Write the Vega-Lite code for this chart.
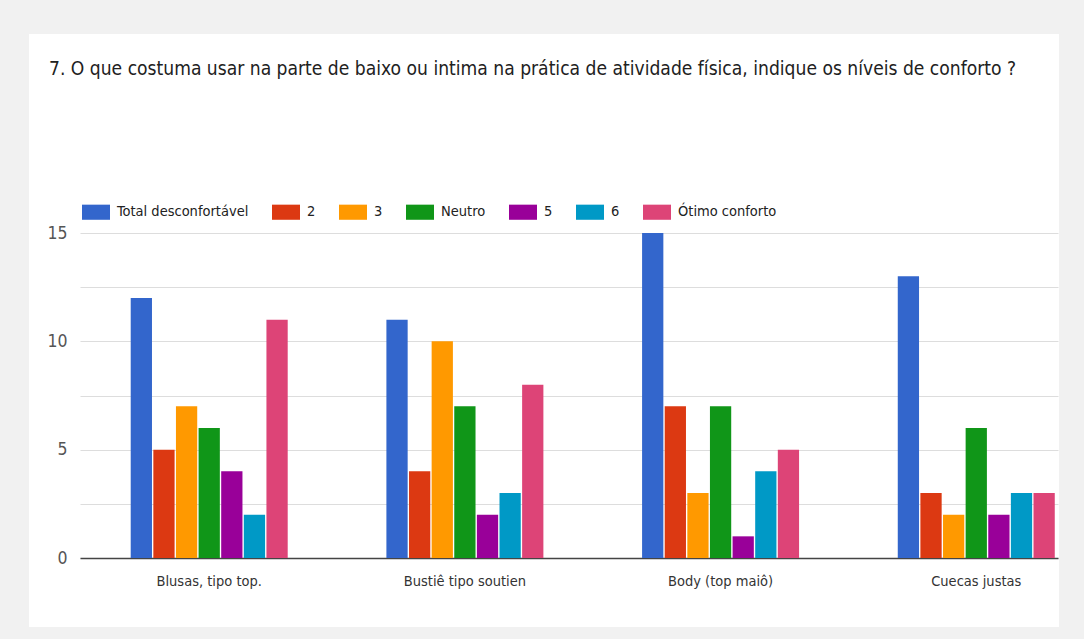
{
  "$schema": "https://vega.github.io/schema/vega-lite/v6.json",
  "width": 1030,
  "height": 593,
  "autosize": {"type": "none"},
  "padding": {"left": 29, "top": 34, "right": 25, "bottom": 12},
  "background": "#f1f1f1",
  "title": {
    "text": "7. O que costuma usar na parte de baixo ou intima na prática de atividade física, indique os níveis de conforto  ?",
    "anchor": "start",
    "frame": "group",
    "dx": 20,
    "offset": -45,
    "fontSize": 19.1,
    "limit": 1020,
    "font": "Liberation Sans Narrow, Arial Narrow, DejaVu Sans Condensed, sans-serif",
    "fontWeight": "normal",
    "color": "#212121"
  },
  "data": {
    "values": [
      {"categoria": "Blusas, tipo top.", "nivel": "Total desconfortável", "valor": 12},
      {"categoria": "Blusas, tipo top.", "nivel": "2", "valor": 5},
      {"categoria": "Blusas, tipo top.", "nivel": "3", "valor": 7},
      {"categoria": "Blusas, tipo top.", "nivel": "Neutro", "valor": 6},
      {"categoria": "Blusas, tipo top.", "nivel": "5", "valor": 4},
      {"categoria": "Blusas, tipo top.", "nivel": "6", "valor": 2},
      {"categoria": "Blusas, tipo top.", "nivel": "Ótimo conforto", "valor": 11},
      {"categoria": "Bustiê tipo soutien", "nivel": "Total desconfortável", "valor": 11},
      {"categoria": "Bustiê tipo soutien", "nivel": "2", "valor": 4},
      {"categoria": "Bustiê tipo soutien", "nivel": "3", "valor": 10},
      {"categoria": "Bustiê tipo soutien", "nivel": "Neutro", "valor": 7},
      {"categoria": "Bustiê tipo soutien", "nivel": "5", "valor": 2},
      {"categoria": "Bustiê tipo soutien", "nivel": "6", "valor": 3},
      {"categoria": "Bustiê tipo soutien", "nivel": "Ótimo conforto", "valor": 8},
      {"categoria": "Body (top maiô)", "nivel": "Total desconfortável", "valor": 15},
      {"categoria": "Body (top maiô)", "nivel": "2", "valor": 7},
      {"categoria": "Body (top maiô)", "nivel": "3", "valor": 3},
      {"categoria": "Body (top maiô)", "nivel": "Neutro", "valor": 7},
      {"categoria": "Body (top maiô)", "nivel": "5", "valor": 1},
      {"categoria": "Body (top maiô)", "nivel": "6", "valor": 4},
      {"categoria": "Body (top maiô)", "nivel": "Ótimo conforto", "valor": 5},
      {"categoria": "Cuecas justas", "nivel": "Total desconfortável", "valor": 13},
      {"categoria": "Cuecas justas", "nivel": "2", "valor": 3},
      {"categoria": "Cuecas justas", "nivel": "3", "valor": 2},
      {"categoria": "Cuecas justas", "nivel": "Neutro", "valor": 6},
      {"categoria": "Cuecas justas", "nivel": "5", "valor": 2},
      {"categoria": "Cuecas justas", "nivel": "6", "valor": 3},
      {"categoria": "Cuecas justas", "nivel": "Ótimo conforto", "valor": 3}
    ]
  },
  "mark": {"type": "bar"},
  "encoding": {
    "x": {
      "field": "categoria",
      "type": "nominal",
      "sort": ["Blusas, tipo top.", "Bustiê tipo soutien", "Body (top maiô)", "Cuecas justas"],
      "scale": {"range": [51, 1029], "paddingInner": 0.386, "paddingOuter": 0.1055, "align": 0.94},
      "axis": {
        "title": null,
        "ticks": false,
        "grid": false,
        "labelAngle": 0,
        "labelPadding": 16,
        "labelFontSize": 14.5,
        "labelColor": "#333333",
        "domainColor": "#444444",
        "domainWidth": 1.5,
        "offset": -69
      }
    },
    "xOffset": {
      "field": "nivel",
      "type": "nominal",
      "sort": ["Total desconfortável", "2", "3", "Neutro", "5", "6", "Ótimo conforto"],
      "scale": {"paddingInner": 0.06}
    },
    "y": {
      "field": "valor",
      "type": "quantitative",
      "scale": {"domain": [0, 15], "range": [524, 199], "nice": false},
      "axis": {
        "title": null,
        "ticks": false,
        "domain": false,
        "offset": -51,
        "labelPadding": 13,
        "labelFontSize": 17.5,
        "labelColor": "#555555",
        "values": [0, 2.5, 5, 7.5, 10, 12.5, 15],
        "labelExpr": "datum.value % 5 === 0 ? datum.label : ''",
        "gridColor": "#dddddd",
        "gridWidth": 1.2
      }
    },
    "color": {
      "field": "nivel",
      "type": "nominal",
      "sort": ["Total desconfortável", "2", "3", "Neutro", "5", "6", "Ótimo conforto"],
      "scale": {
        "domain": ["Total desconfortável", "2", "3", "Neutro", "5", "6", "Ótimo conforto"],
        "range": ["#3366cc", "#dc3912", "#ff9900", "#109618", "#990099", "#0099c6", "#dd4477"]
      },
      "legend": {
        "title": null,
        "orient": "none",
        "legendX": 53,
        "legendY": 164,
        "direction": "horizontal",
        "columns": 7,
        "padding": 0,
        "symbolType": "M-1,-0.54H1V0.54H-1Z",
        "symbolSize": 784,
        "symbolStrokeWidth": 0,
        "symbolOpacity": 1,
        "labelFontSize": 14.5,
        "labelOffset": 7,
        "columnPadding": 23,
        "labelColor": "#222222",
        "labelLimit": 300
      }
    }
  },
  "config": {
    "font": "Liberation Sans Narrow, Arial Narrow, DejaVu Sans Condensed, sans-serif",
    "view": {"fill": "white", "stroke": null}
  }
}
